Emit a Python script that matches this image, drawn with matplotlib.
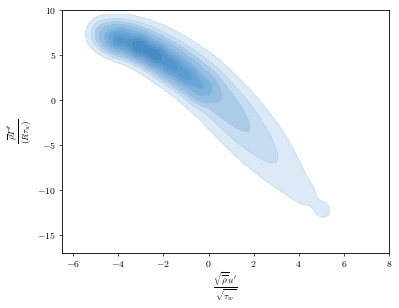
import numpy as np
import matplotlib
matplotlib.use("Agg")
import matplotlib.pyplot as plt
from matplotlib.ticker import FuncFormatter

plt.rcParams['mathtext.fontset'] = 'cm'
plt.rcParams['font.family'] = 'DejaVu Serif'

# Gaussian mixture approximating the KDE
# (isotropic in a display-scaled space; sigma in y units)
# core (dense) part
core_x = [-4.0, -3.1, -2.4, -1.7, -1.0, -0.3]
core_y = [6.6, 5.9, 5.0, 3.9, 2.7, 1.3]
core_s = [0.9, 0.8, 0.8, 0.9, 0.9, 1.0]
core_w = [0.05, 0.07, 0.07, 0.06, 0.05, 0.035]
# main ridge from upper left to lower right
ridge_x = [-4.6, -3.7, -2.9, -2.1, -1.3, -0.5, 0.2, 0.8, 1.4, 1.95, 2.5, 3.0, 3.5, 4.0, 4.5, 5.1]
ridge_y = [7.3, 6.9, 6.2, 5.2, 3.9, 2.5, 0.9, -0.7, -2.3, -3.9, -5.4, -6.9, -8.4, -9.8, -11.0, -12.3]
ridge_s = [1.1, 1.2, 1.35, 1.45, 1.55, 1.6, 1.65, 1.7, 1.8, 1.85, 1.85, 1.8, 1.7, 1.5, 1.2, 0.7]
ridge_w = [0.04, 0.06, 0.06, 0.06, 0.06, 0.055, 0.05, 0.045, 0.04, 0.032, 0.025, 0.018, 0.013, 0.009, 0.006, 0.004]

band_colors = ['#dce9f6', '#c6dcf0', '#abcce8', '#92bfe2', '#7db2dc',
               '#6aa6d6', '#5d9dd0', '#5295cb', '#488cc5']

x_ticks = [-6, -4, -2, 0, 2, 4, 6, 8]
y_ticks = [-15, -10, -5, 0, 5, 10]

aspect = 22.55 / 9.0  # display px per x-unit over px per y-unit
gx = np.linspace(-6.5, 8, 400)
gy = np.linspace(-17, 10, 400)
XX, YY = np.meshgrid(gx, gy)
Z = np.zeros_like(XX)
for cx, cy, s, w in zip(core_x + ridge_x, core_y + ridge_y,
                        core_s + ridge_s, core_w + ridge_w):
    du = (XX - cx) * aspect / s
    dv = (YY - cy) / s
    Z += w * np.exp(-0.5 * (du**2 + dv**2)) / (s * s)

# seaborn-style iso-proportion levels
isoprop = np.linspace(0.05, 1, 10)
vals = np.sort(Z.ravel())[::-1]
norm_vals = np.cumsum(vals) / vals.sum()
idx = np.searchsorted(norm_vals, 1 - isoprop)
levels = np.take(vals, idx, mode='clip')
levels = np.sort(levels)
levels[-1] = Z.max() * 1.001

fig = plt.figure(figsize=(3.99, 3.08), dpi=100)
ax = fig.add_axes([0.155, 0.1786, 0.82, 0.789])
ax.contourf(XX, YY, Z, levels=levels, colors=band_colors)
ax.contour(XX, YY, Z, levels=levels[:-1], colors=['#a8c3dd'], linewidths=0.3, alpha=0.5)

ax.set_xlim(-6.5, 8)
ax.set_ylim(-17, 10)
ax.set_xticks(x_ticks)
ax.set_yticks(y_ticks)
fmt = FuncFormatter(lambda v, p: r'$%g$' % v)
ax.xaxis.set_major_formatter(fmt)
ax.yaxis.set_major_formatter(fmt)
ax.tick_params(labelsize=7, length=2.2, width=0.5, pad=2)
for s in ax.spines.values():
    s.set_linewidth(0.6)
ax.set_xlabel(r"$\frac{\sqrt{\overline{\rho}}u'}{\sqrt{\tau_w}}$", fontsize=9.5, labelpad=1)
ax.set_ylabel(r"$\frac{\overline{\rho}T''}{(R\tau_w)}$", fontsize=9.5, labelpad=3)

fig.savefig('out.png', dpi=100)
